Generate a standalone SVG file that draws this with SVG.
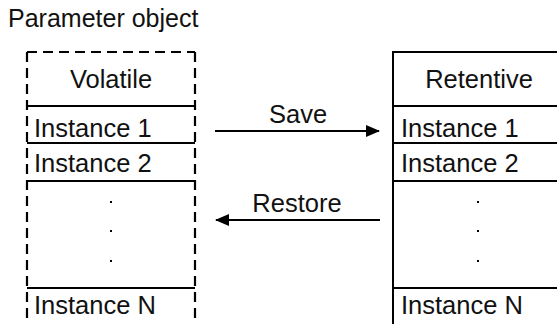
<svg xmlns="http://www.w3.org/2000/svg" width="557" height="324" viewBox="0 0 557 324">
<style>
text{font-family:"Liberation Sans",Arial,sans-serif;fill:#111;}
.t{font-size:25px;}
.b{font-size:25.5px;}
.l{stroke:#000;stroke-width:2;fill:none;}
.d{stroke:#000;stroke-width:2.2;fill:none;stroke-dasharray:10 6;}
.dot{fill:#000;}
</style>
<defs>
<marker id="ah" markerWidth="14" markerHeight="12" refX="13" refY="6" orient="auto" markerUnits="userSpaceOnUse">
<path d="M0,0 L14,6 L0,12 Z" fill="#000"/>
</marker>
</defs>
<text x="8" y="27" class="t">Parameter object</text>
<g id="volatile">
<path class="d" d="M27,52 H195"/>
<path class="d" d="M27,52 V330"/>
<path class="d" d="M195,52 V330"/>
<path class="l" d="M27,106 H195 M27,143 H195 M27,181 H195 M27,288 H195"/>
<text x="111" y="88" class="b" text-anchor="middle">Volatile</text>
<text x="34" y="137" class="b">Instance 1</text>
<text x="34" y="172" class="b">Instance 2</text>
<rect class="dot" x="110" y="201" width="2" height="2"/>
<rect class="dot" x="110" y="230" width="2" height="2"/>
<rect class="dot" x="110" y="260" width="2" height="2"/>
<text x="34" y="314" class="b">Instance N</text>
</g>
<g id="retentive">
<rect class="l" x="393" y="52" width="200" height="300"/>
<path class="l" d="M393,106 H557 M393,143 H557 M393,181 H557 M393,288 H557"/>
<text x="479" y="88" class="b" text-anchor="middle">Retentive</text>
<text x="401" y="137" class="b">Instance 1</text>
<text x="401" y="172" class="b">Instance 2</text>
<rect class="dot" x="477" y="201" width="2" height="2"/>
<rect class="dot" x="477" y="230" width="2" height="2"/>
<rect class="dot" x="477" y="260" width="2" height="2"/>
<text x="401" y="314" class="b">Instance N</text>
</g>
<g id="connectors">
<line class="l" x1="215" y1="131" x2="379" y2="131" marker-end="url(#ah)"/>
<text x="298" y="123" class="b" text-anchor="middle">Save</text>
<line class="l" x1="380" y1="220" x2="216" y2="220" marker-end="url(#ah)"/>
<text x="297" y="212" class="b" text-anchor="middle">Restore</text>
</g>
</svg>
